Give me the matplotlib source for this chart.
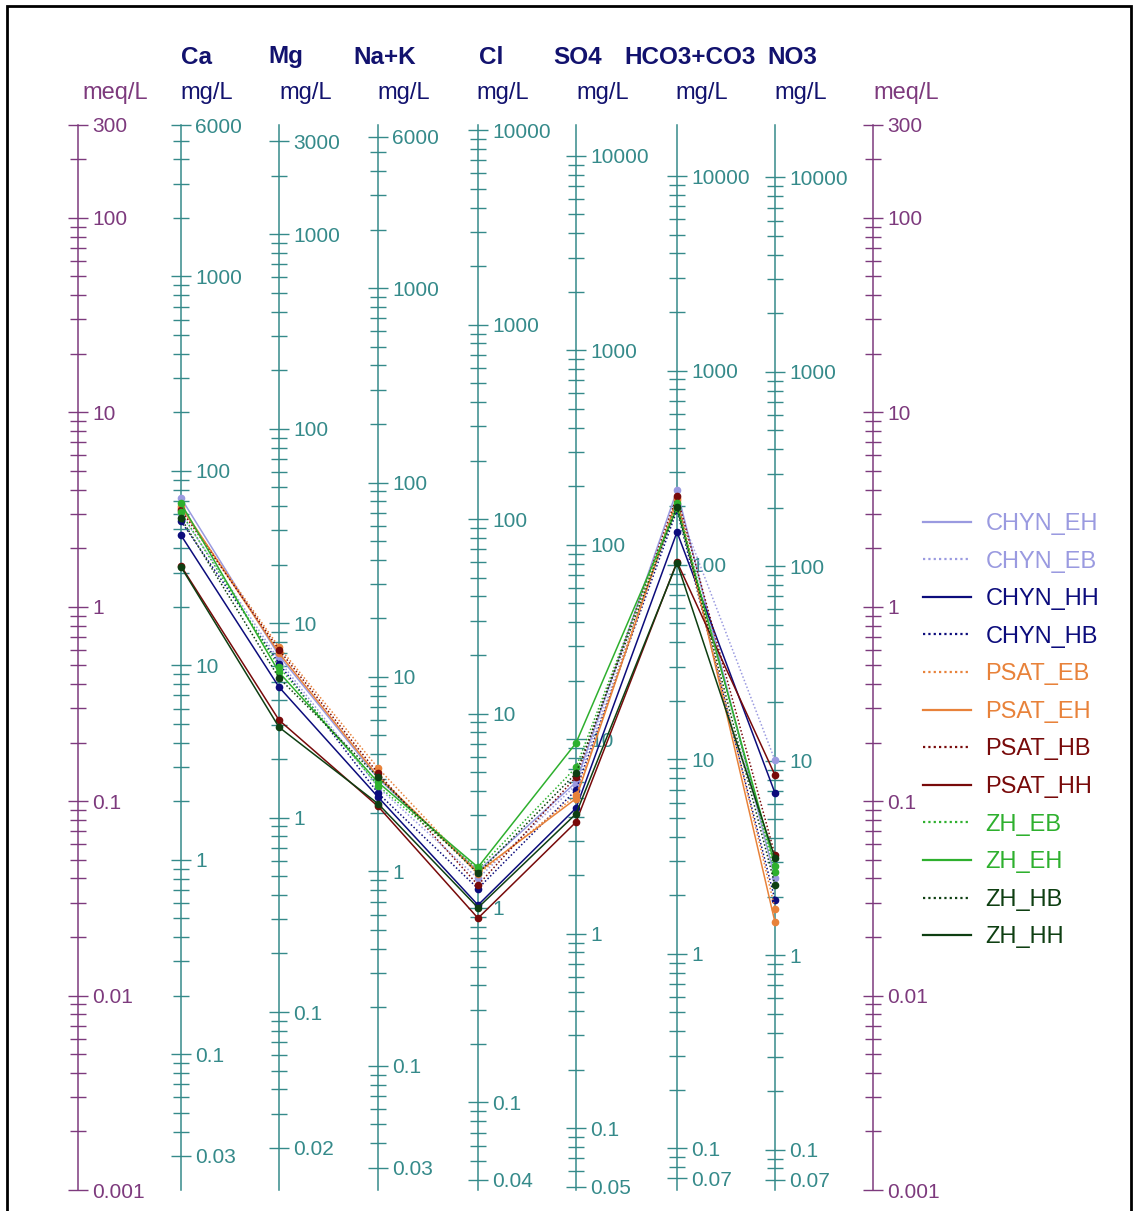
import numpy as np
import matplotlib
matplotlib.use("Agg")
import matplotlib.pyplot as plt
from matplotlib.lines import Line2D
from matplotlib.patches import Rectangle
from matplotlib.ticker import LogLocator, NullFormatter

plt.rcParams["font.family"] = ["Liberation Sans", "DejaVu Sans"]

# ions along the diagram and their equivalent weights (mg per meq)
ions = ["Ca", "Mg", "Na+K", "Cl", "SO4", "HCO3+CO3", "NO3"]
eq_weight = [20.04, 12.15, 22.99, 35.45, 48.03, 61.02, 62.00]

# labelled ticks on each mg/L scale, and on the two meq/L scales
mg_ticks = [
    [6000, 1000, 100, 10, 1, 0.1, 0.03],
    [3000, 1000, 100, 10, 1, 0.1, 0.02],
    [6000, 1000, 100, 10, 1, 0.1, 0.03],
    [10000, 1000, 100, 10, 1, 0.1, 0.04],
    [10000, 1000, 100, 10, 1, 0.1, 0.05],
    [10000, 1000, 100, 10, 1, 0.1, 0.07],
    [10000, 1000, 100, 10, 1, 0.1, 0.07],
]
meq_ticks = [300, 100, 10, 1, 0.1, 0.01, 0.001]

# sample concentrations, meq/L (Ca, Mg, Na+K, Cl, SO4, HCO3+CO3, NO3)
chyn_eh = [3.62, 0.56, 0.131, 0.0437, 0.125, 3.97, 0.040]
chyn_eb = [3.00, 0.53, 0.118, 0.0400, 0.121, 3.33, 0.162]
chyn_hh = [2.33, 0.386, 0.105, 0.0292, 0.092, 2.42, 0.110]
chyn_hb = [2.75, 0.51, 0.110, 0.0355, 0.114, 3.14, 0.031]
psat_eb = [3.20, 0.62, 0.148, 0.0420, 0.107, 3.62, 0.028]
psat_eh = [3.30, 0.577, 0.134, 0.0430, 0.103, 3.53, 0.0238]
psat_hb = [3.15, 0.60, 0.139, 0.0370, 0.133, 3.70, 0.0527]
psat_hh = [1.62, 0.261, 0.094, 0.0250, 0.078, 1.70, 0.136]
zh_eb = [3.05, 0.49, 0.120, 0.0447, 0.149, 3.41, 0.043]
zh_eh = [3.40, 0.46, 0.125, 0.0457, 0.199, 3.21, 0.0465]
zh_hb = [2.85, 0.43, 0.133, 0.0425, 0.139, 3.25, 0.037]
zh_hh = [1.60, 0.24, 0.097, 0.0283, 0.086, 1.68, 0.051]

LAVENDER = "#9a9ae0"
NAVY = "#0c0c7c"
ORANGE = "#e8823a"
MAROON = "#780a0a"
GREEN = "#2eb02e"
DKGREEN = "#0e3f12"
DOTS = (0, (1, 1.4))

series = [
    ("CHYN_EH", chyn_eh, LAVENDER, "-"),
    ("CHYN_EB", chyn_eb, LAVENDER, DOTS),
    ("CHYN_HH", chyn_hh, NAVY, "-"),
    ("CHYN_HB", chyn_hb, NAVY, DOTS),
    ("PSAT_EB", psat_eb, ORANGE, DOTS),
    ("PSAT_EH", psat_eh, ORANGE, "-"),
    ("PSAT_HB", psat_hb, MAROON, DOTS),
    ("PSAT_HH", psat_hh, MAROON, "-"),
    ("ZH_EB", zh_eb, GREEN, DOTS),
    ("ZH_EH", zh_eh, GREEN, "-"),
    ("ZH_HB", zh_hb, DKGREEN, DOTS),
    ("ZH_HH", zh_hh, DKGREEN, "-"),
]

TEAL = "#358a8a"
PURPLE = "#7d3a7d"
HEAD = "#12126e"

W, H = 1134, 1211
# horizontal pixel position of each vertical scale: meq/L, the seven ions, meq/L
col_px = [78, 181, 279, 378, 478, 576, 677, 775, 873]

fig = plt.figure(figsize=(W / 100, H / 100), dpi=100)
ax = fig.add_axes([col_px[0] / W, 21 / H, (col_px[-1] - col_px[0]) / W, 1065 / H])
ax.set_yscale("log")
ax.set_ylim(0.001, 300)
ax.set_xlim(col_px[0], col_px[-1])
ax.patch.set_visible(False)
for s in ax.spines.values():
    s.set_visible(False)
ax.set_xticks([])
ax.tick_params(axis="y", which="both", left=False, labelleft=False)


def add_scale(px, ew, ticks, color):
    loc = (px - col_px[0]) / (col_px[-1] - col_px[0])
    sec = ax.secondary_yaxis(loc, functions=(lambda m, k=ew: m * k,
                                             lambda v, k=ew: v / k))
    sec.set_alignment("right")
    sec.set_ticks(ticks, labels=[f"{t:g}" for t in ticks])
    sec.yaxis.set_minor_locator(LogLocator(base=10, subs=np.arange(2, 10), numticks=60))
    sec.yaxis.set_minor_formatter(NullFormatter())
    sec.tick_params(which="both", direction="inout", colors=color, width=1)
    sec.tick_params(which="major", length=14, pad=3, labelsize=15)
    sec.tick_params(which="minor", length=11)
    sec.spines["right"].set_color(color)
    sec.spines["right"].set_linewidth(1.1)
    return sec


add_scale(col_px[0], 1.0, meq_ticks, PURPLE)
add_scale(col_px[-1], 1.0, meq_ticks, PURPLE)
for px, ew, ticks in zip(col_px[1:-1], eq_weight, mg_ticks):
    add_scale(px, ew, ticks, TEAL)

# concentration profiles
x = col_px[1:-1]
for name, vals, color, ls in series:
    ax.plot(x, vals, color=color, linestyle=ls, linewidth=1.1,
            marker="o", markersize=4.5, markeredgewidth=1,
            clip_on=False, zorder=3)

# column headings
head_x = [197, 286, 385, 491, 578, 690, 792]
unit_x = [207, 306, 404, 503, 603, 702, 801]
for name, hx in zip(ions, head_x):
    fig.text(hx / W, 1 - 57 / H, name, ha="center", va="center",
             fontsize=17.5, fontweight="bold", color=HEAD)
for ux in unit_x:
    fig.text(ux / W, 1 - 93 / H, "mg/L", ha="center", va="center",
             fontsize=17, color=HEAD)
for ux in (115, 906):
    fig.text(ux / W, 1 - 93 / H, "meq/L", ha="center", va="center",
             fontsize=17, color=PURPLE)

# legend without markers, text coloured like the lines
handles = [Line2D([], [], color=c, linestyle=ls, linewidth=1.6)
           for _, _, c, ls in series]
fig.legend(handles, [s[0] for s in series], loc="upper left",
           bbox_to_anchor=(923 / W, 1 - 513 / H), frameon=False,
           fontsize=17, handlelength=2.05, handletextpad=0.6,
           labelspacing=0.66, borderpad=0, borderaxespad=0,
           labelcolor="linecolor")

# outer frame
fig.add_artist(Rectangle((7 / W, -0.01), 1124 / W, 1 - 6 / H + 0.01,
                         transform=fig.transFigure, fill=False,
                         edgecolor="black", linewidth=2))

fig.savefig("out.png", dpi=100, facecolor="white")
